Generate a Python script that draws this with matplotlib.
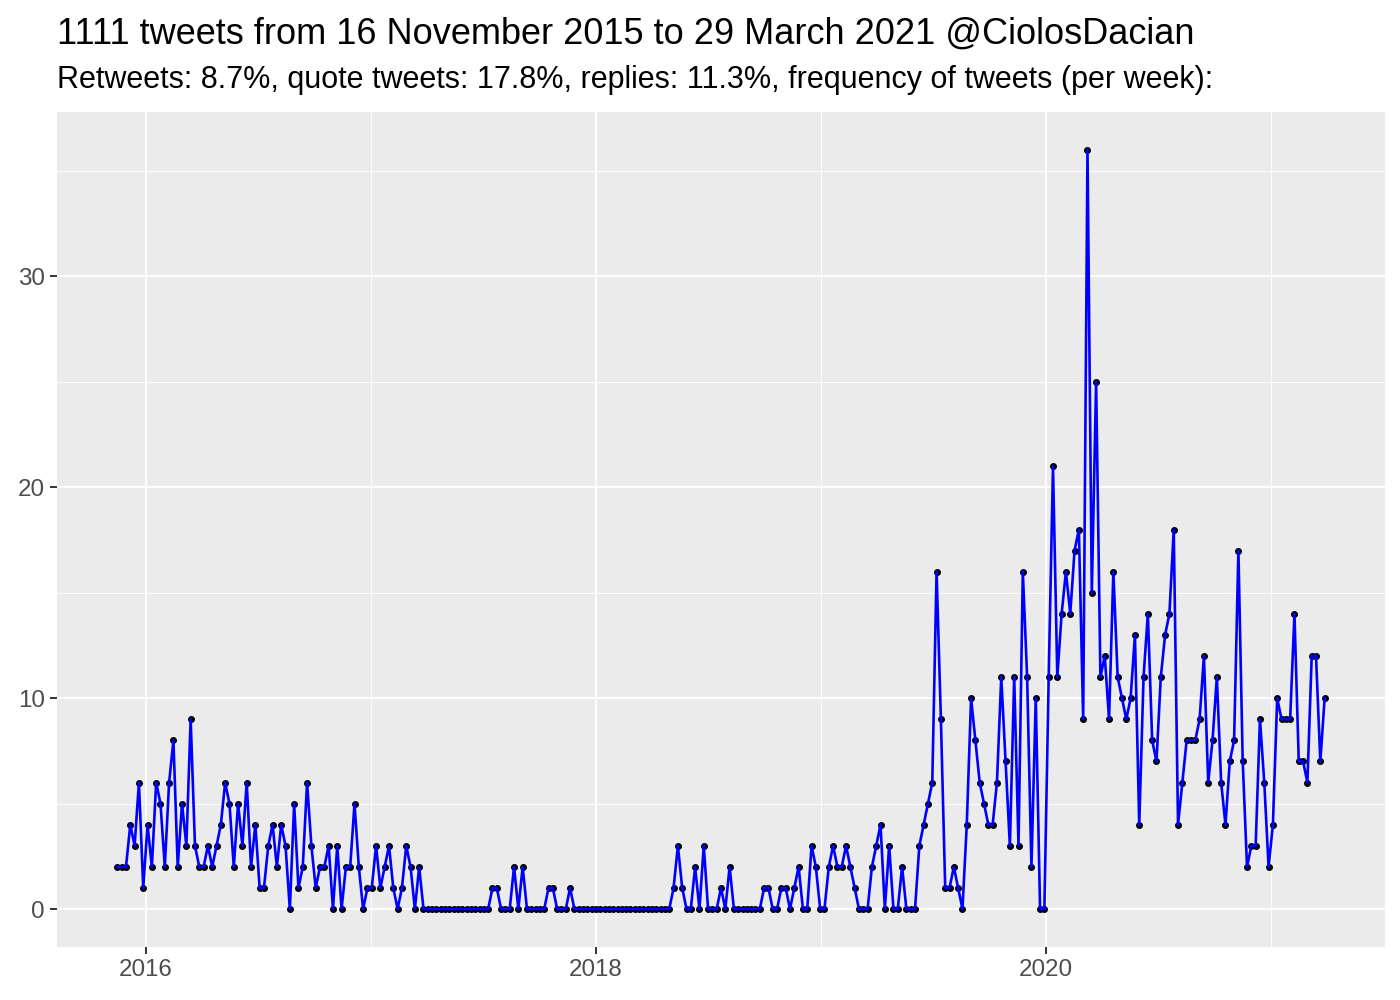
#%% Dependencies
import matplotlib.pyplot as plt
import matplotlib.dates as mdates
import pandas as pd

plt.rcParams['font.family'] = ['Liberation Sans', 'DejaVu Sans']

#%% Data: tweets per week, weekly from 16 Nov 2015
first_week = "2015-11-16"

tweets_per_week = [
    2, 2, 2, 4, 3, 6, 1, 4, 2, 6, 5, 2, 6, 8, 2, 5, 3, 9, 3, 2,
    2, 3, 2, 3, 4, 6, 5, 2, 5, 3, 6, 2, 4, 1, 1, 3, 4, 2, 4, 3,
    0, 5, 1, 2, 6, 3, 1, 2, 2, 3, 0, 3, 0, 2, 2, 5, 2, 0, 1, 1,
    3, 1, 2, 3, 1, 0, 1, 3, 2, 0, 2, 0, 0, 0, 0, 0, 0, 0, 0, 0,
    0, 0, 0, 0, 0, 0, 0, 1, 1, 0, 0, 0, 2, 0, 2, 0, 0, 0, 0, 0,
    1, 1, 0, 0, 0, 1, 0, 0, 0, 0, 0, 0, 0, 0, 0, 0, 0, 0, 0, 0,
    0, 0, 0, 0, 0, 0, 0, 0, 0, 1, 3, 1, 0, 0, 2, 0, 3, 0, 0, 0,
    1, 0, 2, 0, 0, 0, 0, 0, 0, 0, 1, 1, 0, 0, 1, 1, 0, 1, 2, 0,
    0, 3, 2, 0, 0, 2, 3, 2, 2, 3, 2, 1, 0, 0, 0, 2, 3, 4, 0, 3,
    0, 0, 2, 0, 0, 0, 3, 4, 5, 6, 16, 9, 1, 1, 2, 1, 0, 4, 10, 8,
    6, 5, 4, 4, 6, 11, 7, 3, 11, 3, 16, 11, 2, 10, 0, 0, 11, 21, 11, 14,
    16, 14, 17, 18, 9, 36, 15, 25, 11, 12, 9, 16, 11, 10, 9, 10, 13, 4, 11, 14,
    8, 7, 11, 13, 14, 18, 4, 6, 8, 8, 8, 9, 12, 6, 8, 11, 6, 4, 7, 8,
    17, 7, 2, 3, 3, 9, 6, 2, 4, 10, 9, 9, 9, 14, 7, 7, 6, 12, 12, 7,
    10,
]

major_years = [2016, 2018, 2020]
minor_years = [2015, 2017, 2019, 2021]
y_major = [0, 10, 20, 30]
y_minor = [5, 15, 25, 35]

title = "1111 tweets from 16 November 2015 to 29 March 2021 @CiolosDacian"
subtitle = ("Retweets: 8.7%, quote tweets: 17.8%, replies: 11.3%, "
            "frequency of tweets (per week):")

weeks = pd.date_range(first_week, periods=len(tweets_per_week), freq="7D")

#%% Plotting
fig = plt.figure(figsize=(14, 10), dpi=100)
ax = fig.add_axes([57 / 1400, 53 / 1000, 1328 / 1400, 835 / 1000])
ax.set_facecolor("#EBEBEB")

ax.plot(weeks, tweets_per_week, linestyle="none", marker="o",
        markersize=4, color="black", zorder=2)
ax.plot(weeks, tweets_per_week, color="blue", lw=1.9, zorder=3)

ax.set_xticks([mdates.date2num(pd.Timestamp(f"{y}-01-01")) for y in major_years])
ax.set_xticklabels([str(y) for y in major_years])
ax.set_xticks([mdates.date2num(pd.Timestamp(f"{y}-01-01")) for y in minor_years],
              minor=True)
ax.set_yticks(y_major)
ax.set_yticks(y_minor, minor=True)

# ggplot-like 5% expansion (after ticks so they don't widen the view)
x0 = mdates.date2num(weeks[0])
x1 = mdates.date2num(weeks[-1])
pad = (x1 - x0) * 0.05
ax.set_xlim(x0 - pad, x1 + pad)
ymax = max(tweets_per_week)
ax.set_ylim(-0.05 * ymax, ymax * 1.05)

ax.grid(which="major", color="white", lw=1.3)
ax.grid(which="minor", color="white", lw=0.65)
ax.set_axisbelow(True)

for s in ax.spines.values():
    s.set_visible(False)
ax.tick_params(which="major", length=5, width=1.4, color="#333333",
               labelsize=17.4, labelcolor="#4D4D4D", pad=4)
ax.tick_params(which="minor", length=0)

fig.text(57 / 1400, 1 - 44 / 1000, title, fontsize=26, va="baseline")
fig.text(57 / 1400, 1 - 88 / 1000, subtitle, fontsize=22, va="baseline")

fig.savefig("out.png", dpi=100)
